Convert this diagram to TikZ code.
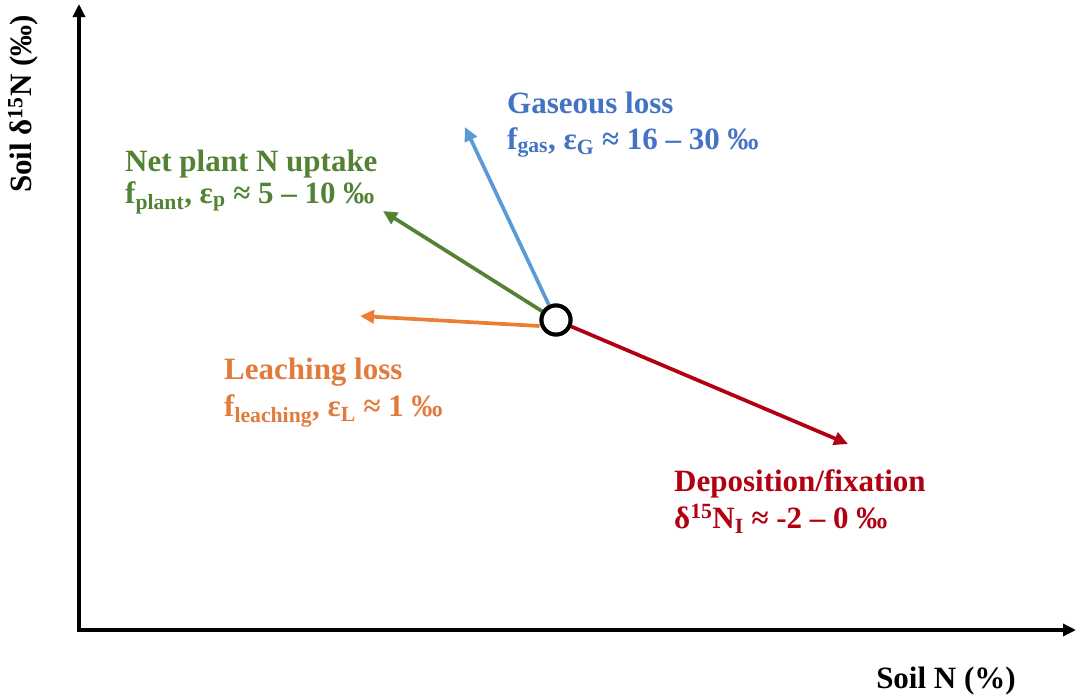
\documentclass[tikz,border=0pt]{standalone}
\usepackage{fontspec}
\setmainfont{Liberation Serif}
\usetikzlibrary{arrows.meta,positioning}
\definecolor{gasblue}{HTML}{5B9BD5}
\definecolor{gastext}{HTML}{4472C4}
\definecolor{plantgreen}{HTML}{548235}
\definecolor{leachorange}{HTML}{ED7D31}
\definecolor{leachtext}{HTML}{E27A3C}
\definecolor{depred}{HTML}{B00012}
\tikzset{
  axisline/.style={line width=3.4pt, -{Triangle[length=13pt,width=12pt]}},
  flux/.style={line width=3.7pt, -{Triangle[length=14pt,width=13pt]}},
  fluxtxt/.style={font=\fontsize{31}{37}\selectfont\bfseries, inner sep=0pt, anchor=base west},
  axtxt/.style={font=\fontsize{31}{37}\selectfont\bfseries, inner sep=0pt},
  pool/.style={circle, draw=black, line width=4pt, fill=white, minimum size=29pt, inner sep=0pt},
}
\begin{document}
\begin{tikzpicture}[x=1pt,y=-1pt]
  \useasboundingbox (0,0) rectangle (1076,699);
  % axes
  \coordinate (origin) at (79,630);
  \coordinate (ytop) at (79,4);
  \coordinate (xend) at (1076,630);
  \draw[axisline] (origin) -- (ytop);
  \draw[axisline] ([xshift=-1.7pt]origin) -- (xend);
  \node[axtxt, rotate=90] (ylab) at (23,104) {Soil δ\textsuperscript{15}N (‰)};
  \node[axtxt] (xlab) at (946,681) {Soil N (\%)};
  % fluxes
  \node[pool] (soil) at (556,320) {};
  \coordinate (gasend) at (465,127);
  \coordinate (plantend) at (383,211);
  \coordinate (leachend) at (360,316);
  \coordinate (depend) at (848,444);
  \draw[flux, gasblue] (soil) -- (gasend);
  \draw[flux, plantgreen] (soil) -- (plantend);
  \draw[flux, leachorange] ([yshift=-6pt]soil.west) -- (leachend);
  \draw[flux, depred] (soil) -- (depend);
  \node[pool] (soilfg) at (556,320) {};
  % labels
  \node[fluxtxt, gastext] (gas1) at (507,113) {Gaseous loss};
  \node[fluxtxt, gastext] (gas2) at (507,149) {f\textsubscript{gas}, ε\textsubscript{G} ≈ 16 – 30 ‰};
  \node[fluxtxt, plantgreen] (plant1) at (125,171) {Net plant N uptake};
  \node[fluxtxt, plantgreen] (plant2) at (125,203) {f\textsubscript{plant}, ε\textsubscript{p} ≈ 5 – 10 ‰};
  \node[fluxtxt, leachtext] (leach1) at (224,379) {Leaching loss};
  \node[fluxtxt, leachtext] (leach2) at (224,416) {f\textsubscript{leaching}, ε\textsubscript{L} ≈ 1 ‰};
  \node[fluxtxt, depred] (dep1) at (674,491) {Deposition/fixation};
  \node[fluxtxt, depred] (dep2) at (674,528) {δ\textsuperscript{15}N\textsubscript{I} ≈ -2 – 0 ‰};
\end{tikzpicture}
\end{document}
